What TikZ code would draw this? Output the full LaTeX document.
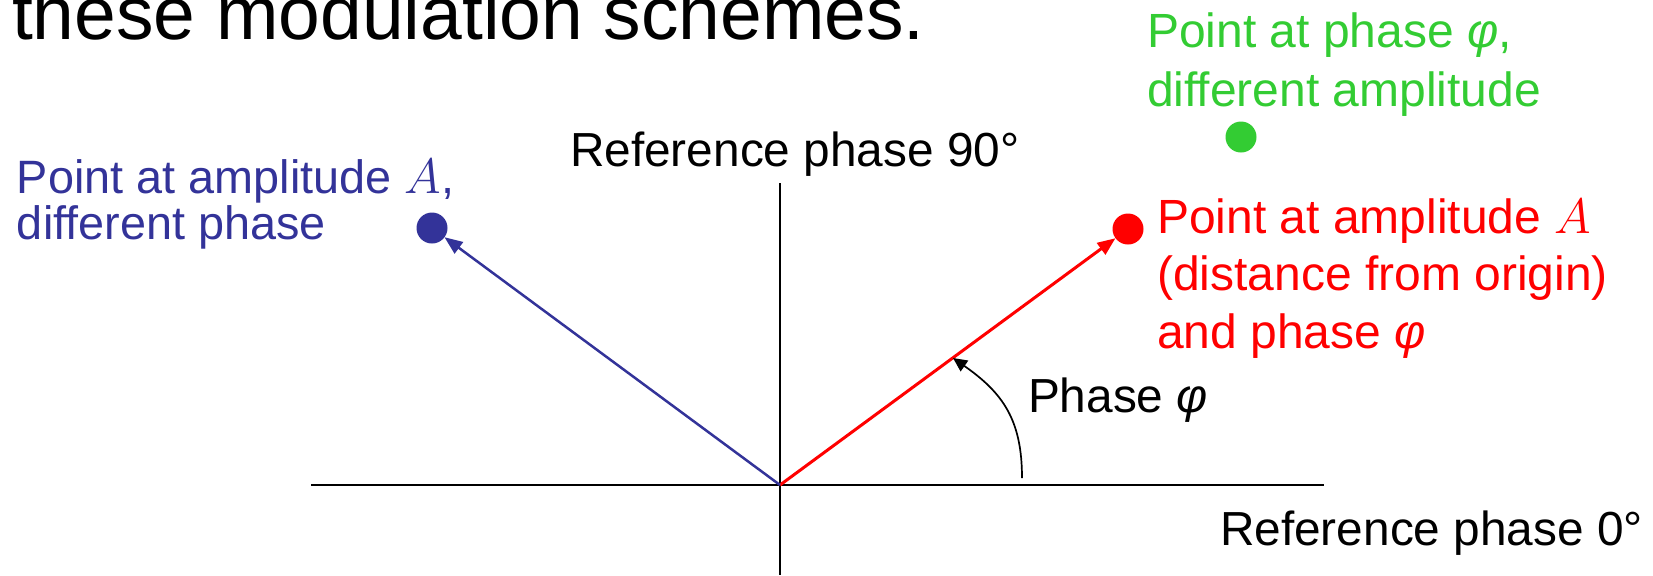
\documentclass[tikz,border=0pt]{standalone}
\usepackage{fontspec}
\setmainfont{Liberation Sans}
\usetikzlibrary{arrows.meta}
\definecolor{myblue}{RGB}{51,51,153}
\definecolor{myred}{RGB}{255,0,0}
\definecolor{mygreen}{RGB}{51,204,51}
\begin{document}
\begin{tikzpicture}[x=0.5pt,y=-0.5pt,
  lbl/.style={inner sep=0pt, outer sep=0pt, anchor=base west, align=left},
  blk/.style={lbl, font=\fontsize{23.9}{28}\selectfont},
  dotnode/.style={circle, inner sep=0pt, outer sep=0pt, minimum size=15.5pt, draw=none},
  axisline/.style={line width=0.9pt, black},
  vec/.style={-{Triangle[length=9pt,width=7pt]}},
]
\useasboundingbox (0,0) rectangle (1653,575);
% title
\node[lbl, font=\fontsize{37.5}{45}\selectfont] (title) at (12,39) {these modulation schemes.};
% axes
\coordinate (O) at (780,485);
\coordinate (xl) at (311,485);
\coordinate (xr) at (1324,485);
\coordinate (yt) at (780,183);
\coordinate (yb) at (780,575);
\draw[axisline] (xl) -- (xr);
\draw[axisline] (yt) -- (yb);
% dots
\node[dotnode, fill=myred] (rdot) at (1128,229) {};
\node[dotnode, fill=myblue] (bdot) at (432,228) {};
\node[dotnode, fill=mygreen] (gdot) at (1241,137) {};
% vectors
\draw[vec, myred, line width=1.5pt] (O) -- (rdot);
\draw[vec, myblue, line width=1.25pt] (O) -- (bdot);
% phase arc
\coordinate (ps) at (1022,478);
\coordinate (pe) at (953,358);
\draw[line width=0.85pt, -{Triangle[length=7pt,width=6.5pt]}] (ps) .. controls (1022,420) and (1003,393) .. (pe);
% labels
\node[blk] (ref90) at (570,166) {Reference phase 90°};
\node[blk] (ref0) at (1220,545) {Reference phase 0°};
\node[blk] (phase) at (1028,412) {Phase \textit{φ}};
\node[lbl, text=myblue, font=\fontsize{23.4}{19.2}\selectfont] (btxt) at (17,239) {Point at amplitude $A$,\\different phase};
\node[lbl, text=myred, font=\fontsize{24}{28.75}\selectfont] (rtxt) at (1157,348) {Point at amplitude $A$\\(distance from origin)\\and phase \textit{φ}};
\node[lbl, text=mygreen, font=\fontsize{24}{29.5}\selectfont] (gtxt) at (1147,106) {Point at phase \textit{φ},\\different amplitude};
\end{tikzpicture}
\end{document}
